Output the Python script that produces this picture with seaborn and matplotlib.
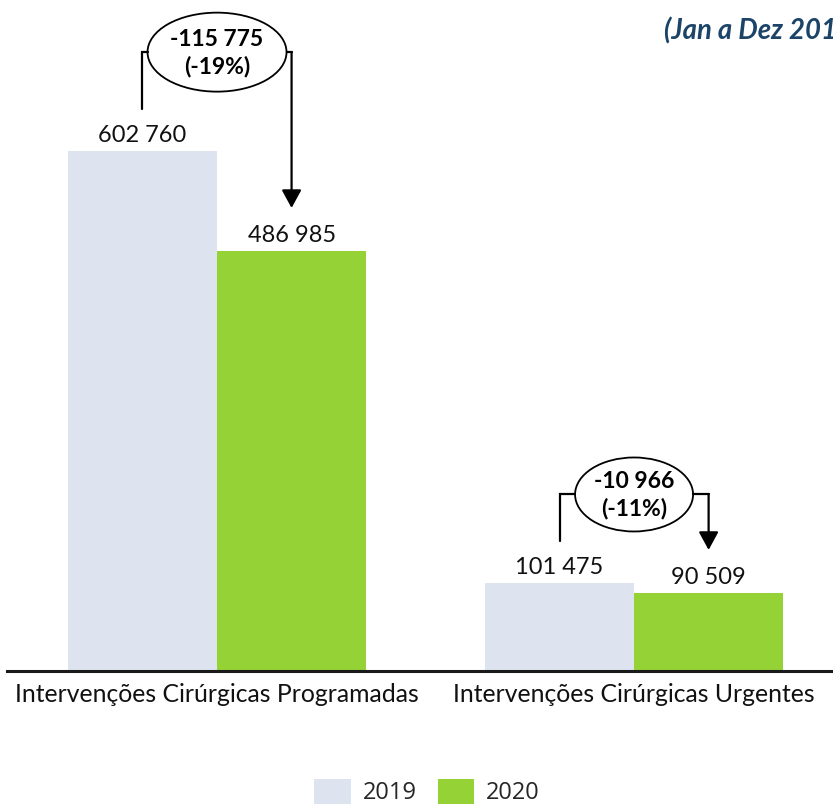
import numpy as np
import pandas as pd
import matplotlib
import matplotlib.pyplot as plt
import matplotlib.transforms as mtransforms
from matplotlib.patches import Ellipse, Patch
import seaborn as sns

# data
categorias = ["Intervenções Cirúrgicas Programadas", "Intervenções Cirúrgicas Urgentes"]
anos = ["2019", "2020"]
valores_2019 = [602760, 101475]
valores_2020 = [486985, 90509]
subtitulo = "(Jan a Dez 2019 vs 2020)"

cor_2019 = "#DEE4EF"
cor_2020 = "#94D235"

DPI = 100


def fmt_num(v):
    # portuguese style thousands separator (space)
    s = f"{abs(int(v)):,}".replace(",", " ")
    return ("-" if v < 0 else "") + s


df = pd.DataFrame(
    {
        "categoria": categorias * 2,
        "ano": [anos[0]] * 2 + [anos[1]] * 2,
        "valor": valores_2019 + valores_2020,
    }
)

sns.set_style("white")
plt.rcParams["font.family"] = ["Lato", "DejaVu Sans"]

fig = plt.figure(figsize=(833 / DPI, 806 / DPI), dpi=DPI)
ax = fig.add_axes([7 / 833, 135 / 806, 826 / 833, 671 / 806])

BAR_W = 0.715
sns.barplot(
    data=df,
    x="categoria",
    y="valor",
    hue="ano",
    palette=[cor_2019, cor_2020],
    width=BAR_W,
    saturation=1,
    linewidth=0,
    legend=False,
    ax=ax,
)

ax.set_xlim(-0.5036, 1.477)
ax.set_ylim(0, 778000)
ax.set_xlabel("")
ax.set_ylabel("")
ax.set_yticks([])
for s in ["left", "right", "top"]:
    ax.spines[s].set_visible(False)
ax.spines["bottom"].set_linewidth(2.2)
ax.spines["bottom"].set_color("#1a1a1a")
ax.tick_params(axis="x", length=0, pad=9, labelsize=17.8, colors="#111111")

d = BAR_W / 4  # offset of each bar from group center

# value labels on top of bars
for i in range(len(categorias)):
    for off, v in [(-d, valores_2019[i]), (d, valores_2020[i])]:
        ax.annotate(
            fmt_num(v),
            (i + off, v),
            xytext=(0, 6.5),
            textcoords="offset points",
            ha="center",
            va="baseline",
            fontsize=17,
            color="#111111",
        )


def px_anchor(x, y):
    # coordinates in pixels relative to a data point
    return (
        mtransforms.Affine2D().scale(1 / DPI)
        + fig.dpi_scale_trans
        + mtransforms.ScaledTranslation(x, y, ax.transData)
    )


# difference callouts
alturas = [99, 89]
elipses = [(139, 79), (118, 74)]
fig.canvas.draw()
d_px = ax.transData.transform((d, 0))[0] - ax.transData.transform((0, 0))[0]

for i in range(len(categorias)):
    v0, v1 = valores_2019[i], valores_2020[i]
    diff = v1 - v0
    pct = diff / v0 * 100
    h = alturas[i]
    ew, eh = elipses[i]
    t = px_anchor(i, v0)
    lw = 1.6
    ax.plot([-d_px, -d_px, -ew / 2], [42, h, h], color="black", lw=lw,
            transform=t, clip_on=False, solid_joinstyle="miter")
    ax.plot([ew / 2, d_px], [h, h], color="black", lw=lw,
            transform=t, clip_on=False)
    ax.add_patch(Ellipse((0, h), ew, eh, transform=t, facecolor="white",
                         edgecolor="black", lw=1.3, clip_on=False))
    ax.annotate(
        "",
        xy=(0, 43),
        xycoords=px_anchor(i + d, v1),
        xytext=(d_px, h),
        textcoords=t,
        arrowprops=dict(arrowstyle="-|>,head_length=0.55,head_width=0.3",
                        mutation_scale=20, color="black", lw=lw,
                        shrinkA=0, shrinkB=0),
        annotation_clip=False,
    )
    ax.text(0, h + 13, fmt_num(diff), transform=t, ha="center", va="center",
            fontsize=16.5, fontweight="bold", color="black")
    ax.text(0, h - 14, f"({pct:.0f}%)", transform=t, ha="center", va="center",
            fontsize=16.5, fontweight="bold", color="black")

# subtitle, cut at the right edge like the source
fig.text(664 / 833, 1 - 31 / 806, subtitulo, ha="left", va="center",
         fontsize=19.8, fontweight="bold", fontstyle="italic", color="#1B4468")

# legend
handles = [Patch(facecolor=cor_2019, edgecolor="none", label=anos[0]),
           Patch(facecolor=cor_2020, edgecolor="none", label=anos[1])]
fig.legend(
    handles=handles,
    loc="center",
    bbox_to_anchor=(427 / 833, 1 - 792 / 806),
    ncol=2,
    frameon=False,
    prop={"family": ["Open Sans", "DejaVu Sans"], "size": 17},
    handlelength=1.55,
    handleheight=1.25,
    handletextpad=0.5,
    columnspacing=0.9,
    borderpad=0,
)

fig.savefig("out.png", dpi=DPI)
